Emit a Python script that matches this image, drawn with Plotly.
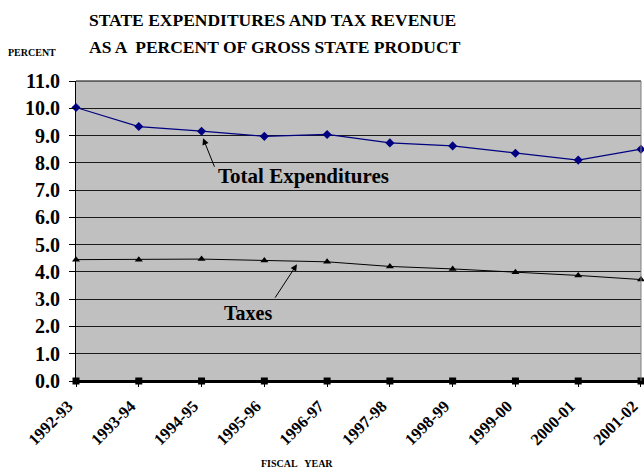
import plotly.graph_objects as go

years = ["1992-93", "1993-94", "1994-95", "1995-96", "1996-97",
         "1997-98", "1998-99", "1999-00", "2000-01", "2001-02"]
total_expenditures = [10.03, 9.33, 9.16, 8.97, 9.04, 8.73, 8.62, 8.35, 8.10, 8.50]
taxes = [4.45, 4.45, 4.47, 4.42, 4.37, 4.20, 4.11, 3.99, 3.87, 3.72]
zero_series = [0, 0, 0, 0, 0, 0, 0, 0, 0, 0]
y_ticks = [0, 1, 2, 3, 4, 5, 6, 7, 8, 9, 10, 11]

xi = list(range(len(years)))
FONT = "Liberation Serif"

fig = go.Figure()
fig.add_trace(go.Scatter(x=xi, y=zero_series, mode="lines+markers",
                         line=dict(color="black", width=2),
                         marker=dict(symbol="square", size=7, color="black"),
                         cliponaxis=False, hoverinfo="skip"))
fig.add_trace(go.Scatter(x=xi, y=taxes, mode="lines+markers",
                         line=dict(color="black", width=1),
                         marker=dict(symbol="triangle-up", size=7, color="black"),
                         cliponaxis=False))
fig.add_trace(go.Scatter(x=xi, y=total_expenditures, mode="lines+markers",
                         line=dict(color="#000080", width=1.2),
                         marker=dict(symbol="diamond", size=7, color="#000080"),
                         cliponaxis=False))

fig.update_layout(
    width=644, height=472,
    margin=dict(l=76, r=3, t=81, b=91, autoexpand=False),
    paper_bgcolor="white", plot_bgcolor="#C0C0C0",
    showlegend=False,
    font=dict(family=FONT, color="black"),
)
fig.update_xaxes(
    range=[-0.0001, 9.0001], tickmode="array", tickvals=xi, ticktext=years,
    tickangle=-45, tickfont=dict(family=FONT, size=16.5, weight="bold"),
    ticklabeloverflow="allow", ticklabelshift=-8, ticklabelstandoff=3,
    showgrid=False, zeroline=False, automargin=False,
    showline=True, linecolor="black", linewidth=2,
    ticks="outside", ticklen=4, tickcolor="black",
)
fig.update_yaxes(
    range=[0, 11], tickmode="array", tickvals=y_ticks,
    ticktext=[f"{v:.1f}" for v in y_ticks],
    tickfont=dict(family=FONT, size=20, weight="bold"),
    ticklabelstandoff=5,
    showgrid=True, gridcolor="#1a1a1a", gridwidth=1, zeroline=False,
    automargin=False,
    showline=True, linecolor="black", linewidth=1,
    ticks="outside", ticklen=6, tickcolor="black",
)

# plot-area border: top black, right gray
fig.add_shape(type="line", xref="paper", yref="paper", x0=0, x1=1, y0=1, y1=1,
              line=dict(color="black", width=1))
fig.add_shape(type="line", xref="paper", yref="paper", x0=1, x1=1, y0=0, y1=1,
              line=dict(color="#808080", width=1))

bold = dict(family=FONT, weight="bold", color="black")
ann = [
    dict(text="STATE EXPENDITURES AND TAX REVENUE", xref="paper", yref="paper",
         x=0.0195, y=1.202, xanchor="left", yanchor="middle", showarrow=False,
         font=dict(size=17.5, **bold)),
    dict(text="AS A  PERCENT OF GROSS STATE PRODUCT", xref="paper", yref="paper",
         x=0.0195, y=1.112, xanchor="left", yanchor="middle", showarrow=False,
         font=dict(size=17.5, **bold)),
    dict(text="PERCENT", xref="paper", yref="paper", x=-0.078, y=1.096,
         xanchor="center", yanchor="middle", showarrow=False,
         font=dict(size=10, **bold)),
    dict(text="FISCAL   YEAR", xref="paper", yref="paper", x=0.391, y=-0.274,
         xanchor="center", yanchor="middle", showarrow=False,
         font=dict(size=10, **bold)),
    dict(text="Total Expenditures", xref="x", yref="y", x=2.231, y=7.51,
         xanchor="left", yanchor="middle", showarrow=False,
         font=dict(size=21, **bold)),
    dict(text="Taxes", xref="x", yref="y", x=2.32, y=2.48,
         xanchor="left", yanchor="middle", showarrow=False,
         font=dict(size=20, **bold)),
    dict(text="", xref="x", yref="y", x=2.024, y=8.90, axref="x", ayref="y",
         ax=2.215, ay=7.80, showarrow=True, arrowhead=2, arrowsize=1.3,
         arrowwidth=1, arrowcolor="black"),
    dict(text="", xref="x", yref="y", x=3.52, y=4.28, axref="x", ayref="y",
         ax=3.156, ay=3.0, showarrow=True, arrowhead=2, arrowsize=1.3,
         arrowwidth=1, arrowcolor="black"),
]
fig.update_layout(annotations=ann)

fig.write_html(
    "out.html",
    config={"displayModeBar": False},
    post_script="document.body.style.margin='0';document.body.style.overflow='hidden';",
)
